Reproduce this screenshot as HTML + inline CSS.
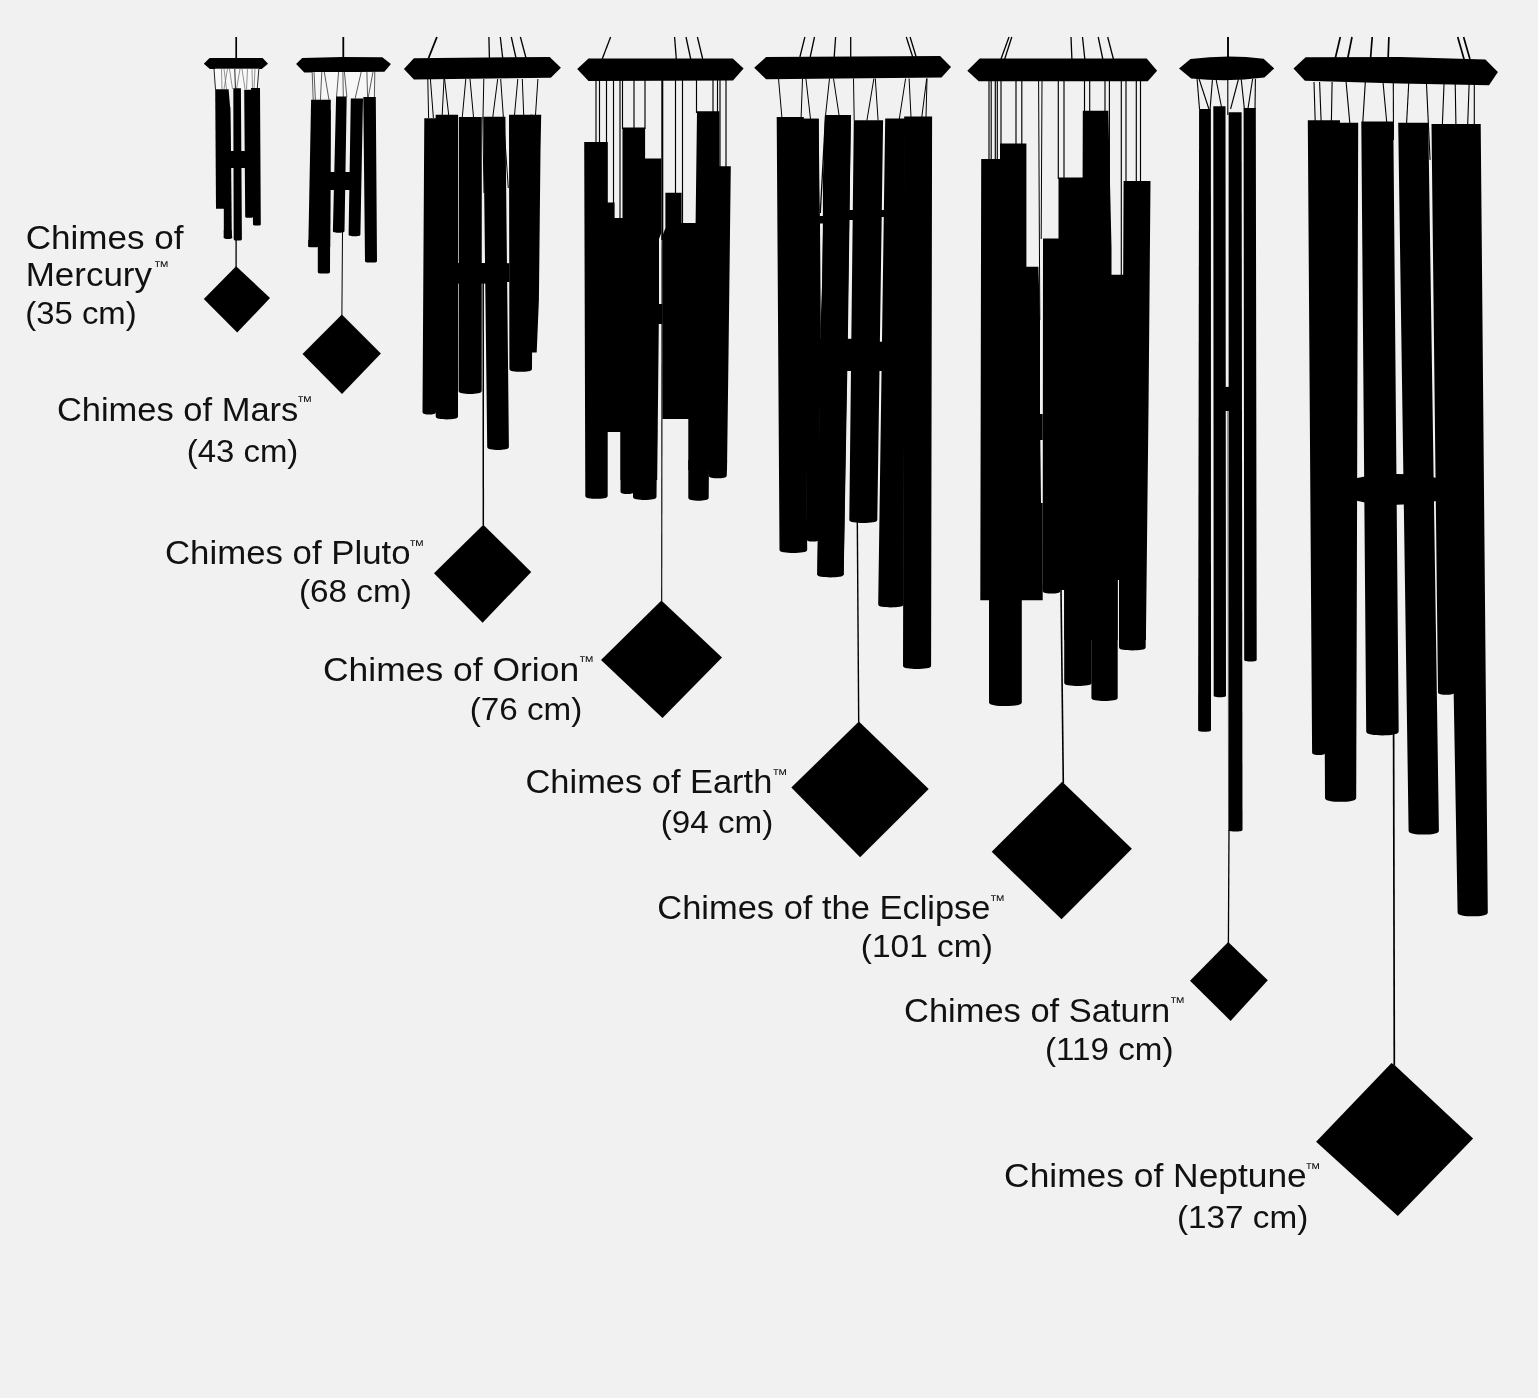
<!DOCTYPE html>
<html lang="en"><head><meta charset="utf-8"><title>Chimes size chart</title>
<style>
html,body{margin:0;padding:0;background:#f1f1f1;}
body{width:1538px;height:1398px;overflow:hidden;}
svg{display:block}
text{font-family:"Liberation Sans",Arial,sans-serif;fill:#111;}
</style></head><body>
<svg width="1538" height="1398" viewBox="0 0 1538 1398">
<rect width="1538" height="1398" fill="#f1f1f1"/>
<line x1="236.2" y1="37.0" x2="236.2" y2="58.0" stroke="#000" stroke-width="1.70"/>
<polygon points="203.8,63.8 209.6,57.9 262.6,57.9 268.0,63.8 261.7,68.9 209.9,68.9" fill="#000"/>
<rect x="214.9" y="68.7" width="43.9" height="20.8" fill="#f9f9f9"/>
<line x1="221.5" y1="69.0" x2="222.0" y2="89.0" stroke="#666" stroke-width="0.70"/>
<line x1="224.0" y1="69.0" x2="226.5" y2="89.0" stroke="#666" stroke-width="0.70"/>
<line x1="227.5" y1="69.0" x2="224.0" y2="89.0" stroke="#666" stroke-width="0.70"/>
<line x1="229.5" y1="69.0" x2="232.5" y2="89.0" stroke="#666" stroke-width="0.70"/>
<line x1="240.0" y1="69.0" x2="236.5" y2="89.0" stroke="#666" stroke-width="0.70"/>
<line x1="242.0" y1="69.0" x2="245.0" y2="89.0" stroke="#666" stroke-width="0.70"/>
<line x1="247.5" y1="69.0" x2="246.5" y2="89.0" stroke="#666" stroke-width="0.70"/>
<line x1="252.0" y1="69.0" x2="252.5" y2="89.0" stroke="#666" stroke-width="0.70"/>
<line x1="255.0" y1="69.0" x2="254.0" y2="89.0" stroke="#666" stroke-width="0.70"/>
<line x1="214.0" y1="69.0" x2="215.5" y2="89.5" stroke="#222" stroke-width="1.00"/>
<line x1="258.8" y1="69.0" x2="257.3" y2="88.5" stroke="#222" stroke-width="1.00"/>
<line x1="234.8" y1="69.0" x2="235.4" y2="88.5" stroke="#222" stroke-width="1.00"/>
<polygon points="223.8,107.0 230.3,107.0 231.0,150.0 231.8,238.0 223.8,238.0" fill="#000"/>
<path d="M223.80,230.00 L231.50,230.00 L232.20,237.32 C232.20,238.90 230.10,239.00 228.00,239.00 C225.90,239.00 223.80,238.90 223.80,237.32 Z" fill="#000"/>
<polygon points="215.2,89.2 228.6,89.2 230.2,108.0 230.8,208.8 216.0,208.8" fill="#000"/>
<path d="M233.30,88.30 L240.90,88.30 L241.90,238.92 C241.90,240.50 239.85,240.60 237.80,240.60 C235.75,240.60 233.70,240.50 233.70,238.92 Z" fill="#000"/>
<path d="M244.20,89.80 L253.00,89.80 L253.00,216.75 C253.00,217.85 251.05,217.80 249.10,217.80 C247.15,217.80 245.20,217.85 245.20,216.75 Z" fill="#000"/>
<path d="M251.00,88.00 L260.00,88.00 L260.80,224.55 C260.80,225.65 258.85,225.60 256.90,225.60 C254.95,225.60 253.00,225.65 253.00,224.55 Z" fill="#000"/>
<rect x="230.0" y="151.0" width="15.5" height="17.0" fill="#000"/>
<line x1="236.1" y1="240.0" x2="236.1" y2="267.0" stroke="#000" stroke-width="1.30"/>
<polygon points="236.1,266.2 270.0,298.0 237.2,332.6 203.8,299.1" fill="#000"/>
<line x1="343.3" y1="37.0" x2="343.3" y2="58.0" stroke="#000" stroke-width="1.80"/>
<polygon points="296.1,64.0 302.2,57.9 342.0,56.9 382.3,57.2 390.9,64.0 384.4,71.8 304.3,72.6" fill="#000"/>
<rect x="312.0" y="72.0" width="63.0" height="26.0" fill="#f7f7f7"/>
<line x1="312.2" y1="72.0" x2="313.2" y2="100.0" stroke="#333" stroke-width="0.80"/>
<line x1="314.0" y1="72.0" x2="315.4" y2="100.0" stroke="#333" stroke-width="0.80"/>
<line x1="321.8" y1="72.0" x2="320.4" y2="100.0" stroke="#333" stroke-width="0.80"/>
<line x1="324.3" y1="72.0" x2="329.0" y2="100.0" stroke="#333" stroke-width="0.80"/>
<line x1="338.6" y1="72.0" x2="336.5" y2="97.0" stroke="#333" stroke-width="0.80"/>
<line x1="342.9" y1="72.0" x2="343.3" y2="97.0" stroke="#333" stroke-width="0.80"/>
<line x1="344.4" y1="72.0" x2="346.9" y2="97.0" stroke="#333" stroke-width="0.80"/>
<line x1="361.2" y1="72.0" x2="355.1" y2="98.5" stroke="#333" stroke-width="0.80"/>
<line x1="366.9" y1="72.0" x2="367.6" y2="97.0" stroke="#333" stroke-width="0.80"/>
<line x1="373.0" y1="72.0" x2="368.3" y2="97.0" stroke="#333" stroke-width="0.80"/>
<line x1="374.8" y1="72.0" x2="374.4" y2="97.0" stroke="#333" stroke-width="0.80"/>
<path d="M317.80,110.00 L330.70,110.00 L330.00,271.92 C330.00,273.50 326.95,273.60 323.90,273.60 C320.85,273.60 317.80,273.50 317.80,271.92 Z" fill="#000"/>
<polygon points="311.1,99.7 330.8,99.7 330.2,247.0 308.3,247.0" fill="#000"/>
<path d="M308.30,240.00 L318.50,240.00 L318.50,246.25 C318.50,247.35 315.95,247.30 313.40,247.30 C310.85,247.30 308.30,247.35 308.30,246.25 Z" fill="#000"/>
<path d="M336.10,96.50 L346.70,96.50 L344.50,231.02 C344.50,232.60 341.60,232.70 338.70,232.70 C335.80,232.70 332.90,232.60 332.90,231.02 Z" fill="#000"/>
<path d="M350.80,98.60 L363.00,98.60 L360.40,234.52 C360.40,236.10 357.45,236.20 354.50,236.20 C351.55,236.20 348.60,236.10 348.60,234.52 Z" fill="#000"/>
<path d="M363.30,96.90 L375.80,96.90 L377.00,260.92 C377.00,262.50 374.00,262.60 371.00,262.60 C368.00,262.60 365.00,262.50 365.00,260.92 Z" fill="#000"/>
<rect x="330.0" y="172.0" width="21.0" height="18.0" fill="#000"/>
<line x1="342.5" y1="232.0" x2="341.9" y2="315.0" stroke="#000" stroke-width="1.00"/>
<polygon points="341.9,314.5 380.9,353.6 342.0,394.0 302.5,353.9" fill="#000"/>
<polygon points="403.9,69.0 413.9,58.3 549.7,56.9 560.9,67.8 550.8,77.8 413.9,79.6" fill="#000"/>
<line x1="436.9" y1="37.0" x2="428.6" y2="58.0" stroke="#000" stroke-width="1.80"/>
<line x1="488.9" y1="37.0" x2="489.4" y2="58.0" stroke="#000" stroke-width="1.30"/>
<line x1="500.3" y1="37.0" x2="502.7" y2="58.0" stroke="#000" stroke-width="1.30"/>
<line x1="511.3" y1="37.0" x2="516.0" y2="58.0" stroke="#000" stroke-width="1.30"/>
<line x1="520.4" y1="37.0" x2="526.0" y2="58.0" stroke="#000" stroke-width="1.30"/>
<line x1="427.8" y1="79.0" x2="428.6" y2="118.0" stroke="#000" stroke-width="1.00"/>
<line x1="430.4" y1="79.0" x2="433.4" y2="118.0" stroke="#000" stroke-width="1.00"/>
<line x1="444.0" y1="79.0" x2="442.2" y2="115.0" stroke="#000" stroke-width="1.00"/>
<line x1="444.6" y1="79.0" x2="448.7" y2="115.0" stroke="#000" stroke-width="1.00"/>
<line x1="465.8" y1="79.0" x2="462.3" y2="117.0" stroke="#000" stroke-width="1.00"/>
<line x1="470.0" y1="79.0" x2="473.5" y2="117.0" stroke="#000" stroke-width="1.00"/>
<line x1="497.7" y1="79.0" x2="492.8" y2="117.0" stroke="#000" stroke-width="1.00"/>
<line x1="517.8" y1="79.0" x2="514.5" y2="115.0" stroke="#000" stroke-width="1.00"/>
<line x1="522.3" y1="79.0" x2="523.7" y2="115.0" stroke="#000" stroke-width="1.00"/>
<line x1="537.9" y1="79.0" x2="535.5" y2="115.0" stroke="#000" stroke-width="1.00"/>
<line x1="500.7" y1="79.0" x2="508.3" y2="188.0" stroke="#000" stroke-width="1.00"/>
<path d="M424.30,118.30 L436.50,118.30 L436.00,412.08 C436.00,414.30 432.62,414.60 429.25,414.60 C425.88,414.60 422.50,414.30 422.50,412.08 Z" fill="#000"/>
<path d="M435.70,114.80 L458.10,114.80 L458.00,416.25 C458.00,418.95 452.43,419.40 446.85,419.40 C441.27,419.40 435.70,418.95 435.70,416.25 Z" fill="#000"/>
<path d="M458.90,117.10 L481.80,117.10 L481.70,390.85 C481.70,393.55 475.92,394.00 470.15,394.00 C464.38,394.00 458.60,393.55 458.60,390.85 Z" fill="#000"/>
<path d="M483.30,116.80 L505.40,116.80 L508.90,446.85 C508.90,449.55 503.47,450.00 498.05,450.00 C492.62,450.00 487.20,449.55 487.20,446.85 Z" fill="#000"/>
<path d="M509.00,114.80 L533.00,114.80 L532.00,368.65 C532.00,371.35 526.35,371.80 520.70,371.80 C515.05,371.80 509.40,371.35 509.40,368.65 Z" fill="#000"/>
<polygon points="530.0,114.8 541.2,114.8 540.5,150.0 538.9,300.0 536.7,352.5 530.0,352.5" fill="#000"/>
<rect x="458.0" y="263.2" width="51.5" height="18.8" fill="#000"/>
<rect x="458.0" y="263.2" width="29.0" height="20.4" fill="#000"/>
<line x1="483.8" y1="79.0" x2="483.0" y2="117.0" stroke="#000" stroke-width="1.00"/>
<line x1="482.8" y1="117.0" x2="484.0" y2="193.0" stroke="#000" stroke-width="1.00"/>
<line x1="483.2" y1="282.0" x2="483.3" y2="525.0" stroke="#000" stroke-width="1.50"/>
<polygon points="483.3,524.7 531.2,572.0 482.6,622.7 434.0,573.3" fill="#000"/>
<polygon points="577.2,69.0 588.5,58.4 732.8,58.4 743.6,68.5 733.0,80.5 588.5,81.0" fill="#000"/>
<line x1="610.6" y1="37.0" x2="602.2" y2="59.0" stroke="#000" stroke-width="1.30"/>
<line x1="674.6" y1="37.0" x2="676.3" y2="59.0" stroke="#000" stroke-width="1.30"/>
<line x1="686.0" y1="37.0" x2="690.7" y2="59.0" stroke="#000" stroke-width="1.30"/>
<line x1="697.4" y1="37.0" x2="702.7" y2="59.0" stroke="#000" stroke-width="1.30"/>
<line x1="596.0" y1="80.0" x2="596.0" y2="143.0" stroke="#000" stroke-width="1.15"/>
<line x1="599.5" y1="80.0" x2="599.5" y2="143.0" stroke="#000" stroke-width="1.15"/>
<line x1="606.5" y1="80.0" x2="606.5" y2="203.0" stroke="#000" stroke-width="1.15"/>
<line x1="613.5" y1="80.0" x2="613.5" y2="211.0" stroke="#000" stroke-width="1.15"/>
<line x1="620.0" y1="80.0" x2="620.0" y2="218.0" stroke="#000" stroke-width="1.15"/>
<line x1="622.5" y1="80.0" x2="622.5" y2="129.0" stroke="#000" stroke-width="1.15"/>
<line x1="634.0" y1="80.0" x2="634.0" y2="129.0" stroke="#000" stroke-width="1.15"/>
<line x1="645.0" y1="80.0" x2="645.0" y2="129.0" stroke="#000" stroke-width="1.15"/>
<line x1="675.5" y1="80.0" x2="675.5" y2="194.0" stroke="#000" stroke-width="1.15"/>
<line x1="682.5" y1="80.0" x2="682.5" y2="223.0" stroke="#000" stroke-width="1.15"/>
<line x1="696.5" y1="80.0" x2="696.5" y2="113.0" stroke="#000" stroke-width="1.15"/>
<line x1="713.0" y1="80.0" x2="713.0" y2="113.0" stroke="#000" stroke-width="1.15"/>
<line x1="717.5" y1="80.0" x2="717.5" y2="113.0" stroke="#000" stroke-width="1.15"/>
<line x1="720.0" y1="80.0" x2="720.0" y2="168.0" stroke="#000" stroke-width="1.15"/>
<line x1="726.0" y1="80.0" x2="726.0" y2="168.0" stroke="#000" stroke-width="1.15"/>
<line x1="662.3" y1="80.0" x2="662.3" y2="240.0" stroke="#000" stroke-width="2.00"/>
<path d="M584.20,141.90 L607.80,141.90 L607.70,495.65 C607.70,498.35 602.10,498.80 596.50,498.80 C590.90,498.80 585.30,498.35 585.30,495.65 Z" fill="#000"/>
<polygon points="606.0,202.5 614.6,202.5 614.6,218.0 624.0,218.0 624.0,432.0 606.0,432.0" fill="#000"/>
<path d="M620.50,430.00 L634.00,430.00 L634.00,491.48 C634.00,493.70 630.62,494.00 627.25,494.00 C623.88,494.00 620.50,493.70 620.50,491.48 Z" fill="#000"/>
<path d="M633.00,430.00 L657.20,430.00 L656.50,496.85 C656.50,499.55 650.62,500.00 644.75,500.00 C638.88,500.00 633.00,499.55 633.00,496.85 Z" fill="#000"/>
<polygon points="622.5,127.6 645.1,127.6 645.1,158.6 661.3,158.6 661.3,233.0 659.0,239.0 659.0,304.0 662.5,304.0 662.5,323.9 658.8,323.9 657.2,480.0 620.5,480.0 620.5,431.0 622.5,431.0" fill="#000"/>
<polygon points="665.4,192.8 681.6,192.8 681.6,223.0 695.6,223.0 697.0,111.3 719.4,111.3 719.4,166.2 730.8,166.2 728.7,340.0 727.0,470.0 688.3,470.0 688.3,419.0 662.4,419.0 662.4,236.0 665.4,228.0" fill="#000"/>
<path d="M688.30,460.00 L709.00,460.00 L708.70,497.55 C708.70,500.25 703.60,500.70 698.50,500.70 C693.40,500.70 688.30,500.25 688.30,497.55 Z" fill="#000"/>
<path d="M708.50,460.00 L727.10,460.00 L726.80,475.15 C726.80,477.85 722.27,478.30 717.75,478.30 C713.23,478.30 708.70,477.85 708.70,475.15 Z" fill="#000"/>
<line x1="662.1" y1="236.0" x2="661.7" y2="601.0" stroke="#000" stroke-width="1.10"/>
<polygon points="661.4,600.5 722.0,657.5 662.5,718.0 601.0,660.0" fill="#000"/>
<polygon points="754.2,67.8 766.1,57.0 940.1,56.1 951.0,66.9 941.5,77.4 766.1,79.3" fill="#000"/>
<line x1="804.9" y1="37.0" x2="799.9" y2="57.0" stroke="#000" stroke-width="1.30"/>
<line x1="814.5" y1="37.0" x2="810.2" y2="57.0" stroke="#000" stroke-width="1.30"/>
<line x1="835.6" y1="37.0" x2="834.2" y2="57.0" stroke="#000" stroke-width="1.30"/>
<line x1="850.7" y1="37.0" x2="850.7" y2="57.0" stroke="#000" stroke-width="1.30"/>
<line x1="906.3" y1="37.0" x2="912.7" y2="57.0" stroke="#000" stroke-width="1.30"/>
<line x1="910.1" y1="37.0" x2="916.2" y2="57.0" stroke="#000" stroke-width="1.30"/>
<line x1="778.5" y1="78.5" x2="781.9" y2="117.5" stroke="#000" stroke-width="1.00"/>
<line x1="802.5" y1="78.5" x2="801.1" y2="117.5" stroke="#000" stroke-width="1.00"/>
<line x1="805.9" y1="78.5" x2="810.5" y2="119.0" stroke="#000" stroke-width="1.00"/>
<line x1="833.5" y1="78.5" x2="839.1" y2="115.5" stroke="#000" stroke-width="1.00"/>
<line x1="853.5" y1="78.5" x2="854.2" y2="120.5" stroke="#000" stroke-width="1.00"/>
<line x1="873.9" y1="78.5" x2="866.9" y2="120.5" stroke="#000" stroke-width="1.00"/>
<line x1="875.3" y1="78.5" x2="878.1" y2="120.5" stroke="#000" stroke-width="1.00"/>
<line x1="905.6" y1="78.5" x2="899.3" y2="119.0" stroke="#000" stroke-width="1.00"/>
<line x1="909.1" y1="78.5" x2="911.0" y2="117.0" stroke="#000" stroke-width="1.00"/>
<line x1="926.7" y1="78.5" x2="921.8" y2="117.0" stroke="#000" stroke-width="1.00"/>
<line x1="927.0" y1="78.5" x2="926.0" y2="117.0" stroke="#000" stroke-width="1.00"/>
<line x1="829.5" y1="78.5" x2="825.6" y2="115.0" stroke="#000" stroke-width="1.00"/>
<line x1="825.6" y1="115.0" x2="820.3" y2="213.0" stroke="#000" stroke-width="1.30"/>
<path d="M802.10,118.80 L818.70,118.80 L818.50,539.50 C818.50,541.40 815.62,541.60 812.75,541.60 C809.88,541.60 807.00,541.40 807.00,539.50 Z" fill="#000"/>
<polygon points="802.1,118.8 818.7,118.8 819.3,180.0 820.0,223.0 820.8,329.0 818.6,540.0 807.0,540.0" fill="#000"/>
<path d="M776.70,117.10 L803.80,117.10 L807.20,549.85 C807.20,552.55 800.28,553.00 793.35,553.00 C786.42,553.00 779.50,552.55 779.50,549.85 Z" fill="#000"/>
<path d="M825.00,115.00 L850.90,115.00 L843.60,574.25 C843.60,576.95 837.03,577.40 830.45,577.40 C823.88,577.40 817.30,576.95 817.30,574.25 Z" fill="#000"/>
<polygon points="825.0,115.0 850.9,115.0 850.0,180.0 847.9,337.4 843.7,575.0 817.3,575.0 820.5,329.0 822.2,280.0 822.9,223.0 822.9,180.0" fill="#000"/>
<path d="M853.80,120.20 L883.10,120.20 L877.30,519.85 C877.30,522.55 870.30,523.00 863.30,523.00 C856.30,523.00 849.30,522.55 849.30,519.85 Z" fill="#000"/>
<path d="M885.20,118.50 L905.00,118.50 L903.50,604.25 C903.50,606.95 897.17,607.40 890.85,607.40 C884.53,607.40 878.20,606.95 878.20,604.25 Z" fill="#000"/>
<path d="M904.20,116.60 L932.10,116.60 L931.10,665.85 C931.10,668.55 924.08,669.00 917.05,669.00 C910.02,669.00 903.00,668.55 903.00,665.85 Z" fill="#000"/>
<rect x="820.0" y="338.8" width="50.0" height="32.2" fill="#000"/>
<rect x="869.0" y="341.7" width="16.0" height="29.3" fill="#000"/>
<rect x="819.0" y="216.0" width="5.0" height="7.5" fill="#000"/>
<rect x="848.0" y="210.0" width="6.0" height="10.0" fill="#000"/>
<rect x="880.0" y="210.0" width="5.0" height="7.0" fill="#000"/>
<line x1="857.3" y1="520.0" x2="858.7" y2="722.0" stroke="#000" stroke-width="1.40"/>
<polygon points="858.9,721.5 928.7,789.0 860.1,857.2 791.3,787.6" fill="#000"/>
<polygon points="967.3,70.7 979.7,58.5 1146.7,58.5 1157.1,70.7 1147.8,81.3 978.7,81.3" fill="#000"/>
<line x1="1009.0" y1="37.0" x2="1001.0" y2="59.0" stroke="#000" stroke-width="1.30"/>
<line x1="1011.8" y1="37.0" x2="1004.7" y2="59.0" stroke="#000" stroke-width="1.30"/>
<line x1="1071.0" y1="37.0" x2="1071.9" y2="59.0" stroke="#000" stroke-width="1.30"/>
<line x1="1082.5" y1="37.0" x2="1084.8" y2="59.0" stroke="#000" stroke-width="1.30"/>
<line x1="1098.2" y1="37.0" x2="1102.8" y2="59.0" stroke="#000" stroke-width="1.30"/>
<line x1="1107.7" y1="37.0" x2="1113.4" y2="59.0" stroke="#000" stroke-width="1.30"/>
<line x1="989.0" y1="81.0" x2="989.0" y2="160.0" stroke="#000" stroke-width="1.15"/>
<line x1="991.2" y1="81.0" x2="991.2" y2="160.0" stroke="#000" stroke-width="1.15"/>
<line x1="995.3" y1="81.0" x2="995.3" y2="160.0" stroke="#000" stroke-width="1.15"/>
<line x1="997.3" y1="81.0" x2="997.3" y2="160.0" stroke="#000" stroke-width="1.15"/>
<line x1="1001.0" y1="81.0" x2="1001.0" y2="144.0" stroke="#000" stroke-width="1.15"/>
<line x1="1016.0" y1="81.0" x2="1016.0" y2="144.0" stroke="#000" stroke-width="1.15"/>
<line x1="1021.8" y1="81.0" x2="1021.8" y2="144.0" stroke="#000" stroke-width="1.15"/>
<line x1="1058.3" y1="81.0" x2="1058.3" y2="179.0" stroke="#000" stroke-width="1.15"/>
<line x1="1064.0" y1="81.0" x2="1064.0" y2="179.0" stroke="#000" stroke-width="1.15"/>
<line x1="1084.5" y1="81.0" x2="1084.5" y2="112.0" stroke="#000" stroke-width="1.15"/>
<line x1="1089.7" y1="81.0" x2="1089.7" y2="112.0" stroke="#000" stroke-width="1.15"/>
<line x1="1105.0" y1="81.0" x2="1105.0" y2="112.0" stroke="#000" stroke-width="1.15"/>
<line x1="1109.4" y1="81.0" x2="1109.4" y2="251.0" stroke="#000" stroke-width="1.15"/>
<line x1="1121.3" y1="81.0" x2="1121.3" y2="276.0" stroke="#000" stroke-width="1.15"/>
<line x1="1126.0" y1="81.0" x2="1126.0" y2="182.0" stroke="#000" stroke-width="1.15"/>
<line x1="1136.3" y1="81.0" x2="1136.3" y2="182.0" stroke="#000" stroke-width="1.15"/>
<line x1="1140.5" y1="81.0" x2="1140.5" y2="182.0" stroke="#000" stroke-width="1.15"/>
<line x1="1038.6" y1="81.0" x2="1039.8" y2="320.0" stroke="#000" stroke-width="1.00"/>
<line x1="1042.0" y1="81.0" x2="1041.2" y2="239.0" stroke="#000" stroke-width="1.00"/>
<path d="M989.00,300.00 L1021.80,300.00 L1021.80,702.22 C1021.80,705.40 1013.60,706.00 1005.40,706.00 C997.20,706.00 989.00,705.40 989.00,702.22 Z" fill="#000"/>
<polygon points="981.2,158.9 1000.0,158.9 1000.0,143.4 1026.4,143.4 1026.4,266.8 1038.4,266.8 1040.0,319.0 1040.0,414.0 1042.7,414.0 1042.7,440.0 1040.3,440.0 1041.0,503.0 1042.7,503.0 1042.7,600.3 980.3,600.3" fill="#000"/>
<polygon points="1043.0,238.4 1058.5,238.4 1058.5,177.6 1082.6,177.6 1082.8,110.8 1108.3,110.8 1111.5,247.5 1111.5,274.7 1123.2,274.7 1123.6,181.1 1150.5,181.1 1148.6,400.0 1145.9,640.0 1119.0,640.0 1119.0,580.0 1117.6,580.0 1117.6,640.0 1064.2,640.0 1064.2,590.0 1042.7,590.0" fill="#000"/>
<path d="M1042.70,585.00 L1060.40,585.00 L1060.40,590.98 C1060.40,593.20 1055.98,593.50 1051.55,593.50 C1047.12,593.50 1042.70,593.20 1042.70,590.98 Z" fill="#000"/>
<path d="M1064.20,500.00 L1091.60,500.00 L1091.60,682.85 C1091.60,685.55 1084.75,686.00 1077.90,686.00 C1071.05,686.00 1064.20,685.55 1064.20,682.85 Z" fill="#000"/>
<path d="M1091.40,500.00 L1117.70,500.00 L1117.70,697.85 C1117.70,700.55 1111.12,701.00 1104.55,701.00 C1097.98,701.00 1091.40,700.55 1091.40,697.85 Z" fill="#000"/>
<path d="M1119.00,500.00 L1146.20,500.00 L1145.70,647.25 C1145.70,649.95 1139.03,650.40 1132.35,650.40 C1125.67,650.40 1119.00,649.95 1119.00,647.25 Z" fill="#000"/>
<line x1="1061.0" y1="590.0" x2="1063.3" y2="783.0" stroke="#000" stroke-width="1.60"/>
<polygon points="1062.2,781.7 1131.9,848.8 1061.5,919.3 991.7,851.7" fill="#000"/>
<line x1="1228.0" y1="37.0" x2="1228.0" y2="58.0" stroke="#000" stroke-width="1.90"/>
<path d="M1179,68.4 L1190.5,59.1 Q1227,54.3 1263.6,58.7 L1274.2,68.4 L1264.4,77.6 Q1227,82.4 1191.2,78.4 Z" fill="#000"/>
<line x1="1197.1" y1="79.0" x2="1199.5" y2="109.0" stroke="#000" stroke-width="1.10"/>
<line x1="1199.1" y1="79.0" x2="1208.9" y2="109.0" stroke="#000" stroke-width="1.10"/>
<line x1="1212.5" y1="79.0" x2="1210.1" y2="109.0" stroke="#000" stroke-width="1.10"/>
<line x1="1216.0" y1="79.0" x2="1221.9" y2="109.0" stroke="#000" stroke-width="1.10"/>
<line x1="1238.5" y1="79.0" x2="1230.6" y2="109.0" stroke="#000" stroke-width="1.10"/>
<line x1="1241.2" y1="79.0" x2="1244.4" y2="109.0" stroke="#000" stroke-width="1.10"/>
<line x1="1252.6" y1="79.0" x2="1247.9" y2="109.0" stroke="#000" stroke-width="1.10"/>
<line x1="1255.4" y1="79.0" x2="1255.0" y2="109.0" stroke="#000" stroke-width="1.10"/>
<line x1="1227.8" y1="79.0" x2="1227.8" y2="115.0" stroke="#000" stroke-width="1.10"/>
<path d="M1199.10,109.10 L1210.90,109.10 L1211.00,730.02 C1211.00,731.60 1207.78,731.70 1204.55,731.70 C1201.32,731.70 1198.10,731.60 1198.10,730.02 Z" fill="#000"/>
<path d="M1213.30,106.20 L1225.50,106.20 L1226.00,695.52 C1226.00,697.10 1222.92,697.20 1219.85,697.20 C1216.78,697.20 1213.70,697.10 1213.70,695.52 Z" fill="#000"/>
<path d="M1228.60,112.20 L1241.60,112.20 L1242.50,829.72 C1242.50,831.30 1239.03,831.40 1235.55,831.40 C1232.07,831.40 1228.60,831.30 1228.60,829.72 Z" fill="#000"/>
<path d="M1243.60,107.90 L1255.80,107.90 L1256.70,659.82 C1256.70,661.40 1253.58,661.50 1250.45,661.50 C1247.33,661.50 1244.20,661.40 1244.20,659.82 Z" fill="#000"/>
<rect x="1225.0" y="386.9" width="5.0" height="24.1" fill="#000"/>
<line x1="1227.8" y1="411.0" x2="1228.6" y2="831.0" stroke="#333" stroke-width="0.70"/>
<line x1="1229.0" y1="830.0" x2="1228.4" y2="943.0" stroke="#000" stroke-width="1.30"/>
<polygon points="1228.2,942.0 1267.8,980.3 1230.6,1020.9 1190.0,980.8" fill="#000"/>
<polygon points="1293.5,68.6 1305.6,57.3 1400.0,57.0 1485.4,59.5 1497.9,72.0 1489.0,85.3 1400.0,83.6 1304.9,80.8" fill="#000"/>
<line x1="1340.3" y1="37.0" x2="1335.1" y2="59.0" stroke="#000" stroke-width="1.70"/>
<line x1="1352.0" y1="37.0" x2="1347.6" y2="59.0" stroke="#000" stroke-width="1.70"/>
<line x1="1372.2" y1="37.0" x2="1370.5" y2="59.0" stroke="#000" stroke-width="1.70"/>
<line x1="1388.9" y1="37.0" x2="1388.1" y2="59.0" stroke="#000" stroke-width="1.70"/>
<line x1="1457.7" y1="37.0" x2="1464.0" y2="59.0" stroke="#000" stroke-width="1.70"/>
<line x1="1463.6" y1="37.0" x2="1469.9" y2="59.0" stroke="#000" stroke-width="1.70"/>
<line x1="1314.0" y1="82.0" x2="1315.2" y2="121.0" stroke="#000" stroke-width="1.10"/>
<line x1="1319.6" y1="82.0" x2="1321.1" y2="121.0" stroke="#000" stroke-width="1.10"/>
<line x1="1332.1" y1="82.0" x2="1331.4" y2="121.0" stroke="#000" stroke-width="1.10"/>
<line x1="1346.1" y1="82.0" x2="1349.8" y2="123.0" stroke="#000" stroke-width="1.10"/>
<line x1="1365.3" y1="82.0" x2="1362.8" y2="122.0" stroke="#000" stroke-width="1.10"/>
<line x1="1383.0" y1="82.0" x2="1386.7" y2="122.0" stroke="#000" stroke-width="1.10"/>
<line x1="1393.3" y1="82.0" x2="1393.5" y2="140.0" stroke="#000" stroke-width="1.10"/>
<line x1="1408.8" y1="82.0" x2="1406.6" y2="123.0" stroke="#000" stroke-width="1.10"/>
<line x1="1426.4" y1="82.0" x2="1430.1" y2="160.0" stroke="#000" stroke-width="1.10"/>
<line x1="1444.1" y1="82.0" x2="1442.4" y2="124.0" stroke="#000" stroke-width="1.10"/>
<line x1="1455.2" y1="82.0" x2="1455.9" y2="124.0" stroke="#000" stroke-width="1.10"/>
<line x1="1469.2" y1="82.0" x2="1467.7" y2="124.0" stroke="#000" stroke-width="1.10"/>
<line x1="1474.3" y1="82.0" x2="1474.3" y2="124.0" stroke="#000" stroke-width="1.10"/>
<path d="M1307.80,120.20 L1340.00,120.20 L1325.50,752.48 C1325.50,754.70 1322.15,755.00 1318.80,755.00 C1315.45,755.00 1312.10,754.70 1312.10,752.48 Z" fill="#000"/>
<path d="M1322.00,122.80 L1358.20,122.80 L1356.20,798.02 C1356.20,801.20 1348.40,801.80 1340.60,801.80 C1332.80,801.80 1325.00,801.20 1325.00,798.02 Z" fill="#000"/>
<path d="M1361.30,121.60 L1393.30,121.60 L1398.70,731.62 C1398.70,734.80 1390.58,735.40 1382.45,735.40 C1374.33,735.40 1366.20,734.80 1366.20,731.62 Z" fill="#000"/>
<path d="M1398.20,122.80 L1428.30,122.80 L1438.90,830.82 C1438.90,834.00 1431.33,834.60 1423.75,834.60 C1416.17,834.60 1408.60,834.00 1408.60,830.82 Z" fill="#000"/>
<path d="M1431.50,124.00 L1455.00,124.00 L1454.50,692.28 C1454.50,694.50 1450.38,694.80 1446.25,694.80 C1442.12,694.80 1438.00,694.50 1438.00,692.28 Z" fill="#000"/>
<path d="M1443.50,124.00 L1480.70,124.00 L1487.80,912.52 C1487.80,915.70 1480.25,916.30 1472.70,916.30 C1465.15,916.30 1457.60,915.70 1457.60,912.52 Z" fill="#000"/>
<ellipse cx="1397" cy="489.4" rx="60" ry="15.3" fill="#000"/>
<line x1="1393.6" y1="730.0" x2="1394.3" y2="1065.0" stroke="#000" stroke-width="1.70"/>
<polygon points="1391.5,1062.9 1394.8,1065.3 1473.1,1138.6 1397.8,1216.1 1316.1,1141.7" fill="#000"/>
<text font-size="33.5"><tspan x="25.7" y="249.0" textLength="157.8" lengthAdjust="spacingAndGlyphs">Chimes of</tspan> <tspan x="25.7" y="285.8" textLength="126.3" lengthAdjust="spacingAndGlyphs">Mercury</tspan><tspan x="153.8" y="272.2" font-size="15.5">™</tspan></text>
<text x="25.3" y="324.0" font-size="32.0" text-anchor="start" textLength="111.4" lengthAdjust="spacingAndGlyphs">(35 cm)</text>
<text font-size="33.5"><tspan x="56.9" y="421.0" textLength="241.4" lengthAdjust="spacingAndGlyphs">Chimes of Mars</tspan><tspan x="296.9" y="407.4" font-size="15.5">™</tspan></text>
<text x="186.7" y="462.2" font-size="32.0" text-anchor="start" textLength="111.6" lengthAdjust="spacingAndGlyphs">(43 cm)</text>
<text font-size="33.5"><tspan x="165.0" y="564.2" textLength="245.5" lengthAdjust="spacingAndGlyphs">Chimes of Pluto</tspan><tspan x="409.1" y="550.6" font-size="15.5">™</tspan></text>
<text x="299.0" y="601.5" font-size="32.0" text-anchor="start" textLength="112.8" lengthAdjust="spacingAndGlyphs">(68 cm)</text>
<text font-size="33.5"><tspan x="323.0" y="681.0" textLength="256.2" lengthAdjust="spacingAndGlyphs">Chimes of Orion</tspan><tspan x="578.8" y="667.4" font-size="15.5">™</tspan></text>
<text x="469.7" y="719.6" font-size="32.0" text-anchor="start" textLength="112.5" lengthAdjust="spacingAndGlyphs">(76 cm)</text>
<text font-size="33.5"><tspan x="525.5" y="793.4" textLength="246.8" lengthAdjust="spacingAndGlyphs">Chimes of Earth</tspan><tspan x="772.2" y="779.8" font-size="15.5">™</tspan></text>
<text x="660.7" y="833.3" font-size="32.0" text-anchor="start" textLength="112.5" lengthAdjust="spacingAndGlyphs">(94 cm)</text>
<text font-size="33.5"><tspan x="657.3" y="919.2" textLength="333.2" lengthAdjust="spacingAndGlyphs">Chimes of the Eclipse</tspan><tspan x="989.8" y="905.6" font-size="15.5">™</tspan></text>
<text x="860.8" y="956.5" font-size="32.0" text-anchor="start" textLength="132.0" lengthAdjust="spacingAndGlyphs">(101 cm)</text>
<text font-size="33.5"><tspan x="904.0" y="1021.6" textLength="266.3" lengthAdjust="spacingAndGlyphs">Chimes of Saturn</tspan><tspan x="1169.8" y="1008.0" font-size="15.5">™</tspan></text>
<text x="1045.0" y="1060.3" font-size="32.0" text-anchor="start" textLength="128.5" lengthAdjust="spacingAndGlyphs">(119 cm)</text>
<text font-size="33.5"><tspan x="1004.1" y="1187.3" textLength="302.7" lengthAdjust="spacingAndGlyphs">Chimes of Neptune</tspan><tspan x="1305.3" y="1173.7" font-size="15.5">™</tspan></text>
<text x="1177.0" y="1228.2" font-size="32.0" text-anchor="start" textLength="131.2" lengthAdjust="spacingAndGlyphs">(137 cm)</text>
</svg>
</body></html>
